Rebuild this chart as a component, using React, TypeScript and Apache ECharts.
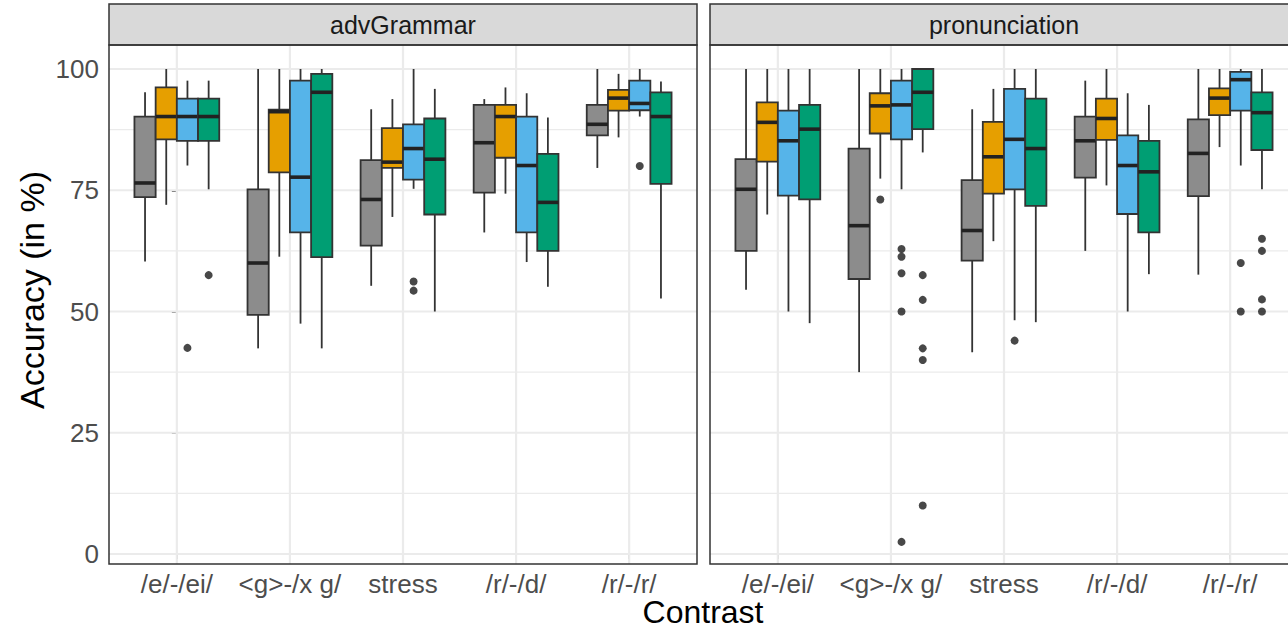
import React, { useEffect, useRef } from "react";
import * as echarts from "echarts";

// ---------- data ----------
const categories = ["/e/-/ei/", "<g>-/x g/", "stress", "/r/-/d/", "/r/-/r/"];
const panels = ["advGrammar", "pronunciation"];
const yTicks = [0, 25, 50, 75, 100];
const yMinorTicks = [12.5, 37.5, 62.5, 87.5];
const groupColors = ["#8C8C8C", "#E69F00", "#56B4E9", "#009E73"];

// each row: [lower whisker, Q1, median, Q3, upper whisker], one row per category
const advGrammarGray = [
  [60.3, 73.6, 76.5, 90.2, 95.2],
  [42.4, 49.3, 60.0, 75.2, 100],
  [55.3, 63.6, 73.1, 81.2, 91.7],
  [66.3, 74.5, 84.8, 92.6, 93.8],
  [79.6, 86.3, 88.6, 92.6, 100],
];
const advGrammarOrange = [
  [72.0, 85.5, 90.2, 96.2, 100],
  [61.3, 78.7, 91.2, 91.6, 100],
  [69.5, 79.6, 80.8, 87.8, 93.8],
  [74.3, 81.7, 90.2, 92.6, 96.2],
  [85.9, 91.4, 94.0, 95.7, 99.0],
];
const advGrammarBlue = [
  [80.1, 85.2, 90.2, 93.9, 97.6],
  [47.5, 66.3, 77.7, 97.6, 100],
  [75.3, 77.2, 83.6, 88.6, 100],
  [60.2, 66.3, 80.1, 90.2, 95.0],
  [90.2, 91.5, 92.9, 97.6, 100],
];
const advGrammarGreen = [
  [75.2, 85.2, 90.2, 93.9, 97.6],
  [42.4, 61.2, 95.2, 99.0, 100],
  [50.0, 70.0, 81.4, 89.8, 95.9],
  [55.1, 62.5, 72.5, 82.5, 90.0],
  [52.7, 76.3, 90.2, 95.2, 97.4],
];
const pronunciationGray = [
  [54.5, 62.5, 75.2, 81.4, 100],
  [37.5, 56.7, 67.7, 83.6, 100],
  [41.6, 60.5, 66.7, 77.1, 91.7],
  [62.5, 77.6, 85.2, 90.2, 97.6],
  [57.6, 73.8, 82.6, 89.6, 100],
];
const pronunciationOrange = [
  [70.0, 80.9, 89.0, 93.1, 100],
  [77.4, 86.7, 92.4, 95.0, 100],
  [64.5, 74.3, 81.9, 89.1, 95.9],
  [76.0, 85.4, 89.8, 93.9, 100],
  [83.9, 90.5, 94.0, 96.0, 100],
];
const pronunciationBlue = [
  [50.0, 73.9, 85.2, 91.4, 100],
  [75.2, 85.5, 92.6, 97.6, 100],
  [48.2, 75.2, 85.5, 95.9, 100],
  [50.0, 70.1, 80.1, 86.3, 95.0],
  [80.1, 91.4, 97.8, 99.4, 100],
];
const pronunciationGreen = [
  [47.6, 73.1, 87.6, 92.6, 100],
  [82.8, 87.6, 95.2, 100, 100],
  [47.8, 71.8, 83.6, 93.9, 100],
  [57.7, 66.3, 78.8, 85.2, 92.6],
  [75.2, 83.3, 91.0, 95.2, 100],
];

// outliers: [category index, group index, value]
const advGrammarOutliers = [
  [0, 2, 42.5],
  [0, 3, 57.5],
  [2, 2, 56.2],
  [2, 2, 54.3],
  [4, 2, 80.0],
];
const pronunciationOutliers = [
  [1, 1, 73.1],
  [1, 2, 62.9],
  [1, 2, 61.3],
  [1, 2, 57.9],
  [1, 2, 50.0],
  [1, 2, 2.5],
  [1, 3, 57.5],
  [1, 3, 52.4],
  [1, 3, 42.4],
  [1, 3, 40.0],
  [1, 3, 10.0],
  [2, 2, 44.0],
  [4, 2, 60.0],
  [4, 2, 50.0],
  [4, 3, 65.0],
  [4, 3, 62.5],
  [4, 3, 52.5],
  [4, 3, 50.0],
];

const panelBoxes = [
  [advGrammarGray, advGrammarOrange, advGrammarBlue, advGrammarGreen],
  [pronunciationGray, pronunciationOrange, pronunciationBlue, pronunciationGreen],
];
const panelOutliers = [advGrammarOutliers, pronunciationOutliers];

// ---------- layout ----------
const X_MIN = -0.6;
const X_MAX = 4.6;
const Y_MIN = -2.06;
const Y_MAX = 104.95;
const BOX_W = 0.1875;
const groupOffsets = [-1.5, -0.5, 0.5, 1.5].map((k) => k * BOX_W);
const PANEL_TOP = 45;
const PANEL_H = 519;
const PANEL_W = 588;
const panelLefts = [109, 710];
const FONT = "'Liberation Sans', Arial, Helvetica, sans-serif";
const DARK = "#333333";

function buildOption() {
  const grids = panelLefts.map((l) => ({ left: l, top: PANEL_TOP, width: PANEL_W, height: PANEL_H }));
  const xAxes = panelLefts.map((_, i) => ({
    type: "value",
    gridIndex: i,
    min: X_MIN,
    max: X_MAX,
    axisLine: { show: false },
    splitLine: { show: false },
    axisTick: {
      show: true,
      customValues: [0, 1, 2, 3, 4],
      length: 5,
      lineStyle: { color: DARK, width: 1.5 },
    },
    axisLabel: {
      show: true,
      customValues: [0, 1, 2, 3, 4],
      formatter: (v: number) => categories[Math.round(v)] ?? "",
      fontSize: 26,
      fontFamily: FONT,
      color: "#4D4D4D",
      margin: 7,
    },
  }));
  const yAxes = panelLefts.map((_, i) => ({
    type: "value",
    gridIndex: i,
    min: Y_MIN,
    max: Y_MAX,
    axisLine: { show: false },
    splitLine: { show: false },
    axisTick: {
      show: i === 0,
      customValues: yTicks,
      length: 5,
      lineStyle: { color: DARK, width: 1.5 },
    },
    axisLabel: {
      show: i === 0,
      customValues: yTicks,
      fontSize: 26,
      fontFamily: FONT,
      color: "#4D4D4D",
      margin: 10,
    },
  }));

  const series: any[] = [];
  panelLefts.forEach((_, p) => {
    // grid lines
    series.push({
      type: "custom",
      xAxisIndex: p,
      yAxisIndex: p,
      silent: true,
      z: 1,
      data: [[0, 0]],
      renderItem: (params: any, api: any) => {
        const children: any[] = [];
        const x0 = api.coord([X_MIN, 0])[0];
        const x1 = api.coord([X_MAX, 0])[0];
        const yTop = api.coord([0, Y_MAX])[1];
        const yBot = api.coord([0, Y_MIN])[1];
        yMinorTicks.forEach((v) => {
          const y = api.coord([0, v])[1];
          children.push({ type: "line", shape: { x1: x0, y1: y, x2: x1, y2: y }, style: { stroke: "#EBEBEB", lineWidth: 1.3 } });
        });
        yTicks.forEach((v) => {
          const y = api.coord([0, v])[1];
          children.push({ type: "line", shape: { x1: x0, y1: y, x2: x1, y2: y }, style: { stroke: "#EBEBEB", lineWidth: 2.2 } });
        });
        categories.forEach((_, c) => {
          const x = api.coord([c, 0])[0];
          children.push({ type: "line", shape: { x1: x, y1: yTop, x2: x, y2: yBot }, style: { stroke: "#EBEBEB", lineWidth: 2.2 } });
        });
        return { type: "group", children };
      },
    });
    // boxes
    const boxData: number[][] = [];
    panelBoxes[p].forEach((grp, g) => {
      grp.forEach((row, c) => boxData.push([c, g, ...row]));
    });
    series.push({
      type: "custom",
      xAxisIndex: p,
      yAxisIndex: p,
      silent: true,
      z: 2,
      encode: { x: 0, y: [2, 3, 4, 5, 6] },
      data: boxData,
      renderItem: (params: any, api: any) => {
        const c = api.value(0);
        const g = api.value(1);
        const xc = c + groupOffsets[g];
        const pMin = api.coord([xc, api.value(2)]);
        const pQ1 = api.coord([xc, api.value(3)]);
        const pMed = api.coord([xc, api.value(4)]);
        const pQ3 = api.coord([xc, api.value(5)]);
        const pMax = api.coord([xc, api.value(6)]);
        const left = api.coord([xc - BOX_W / 2, 0])[0];
        const right = api.coord([xc + BOX_W / 2, 0])[0];
        const ws = { stroke: DARK, lineWidth: 1.8 };
        return {
          type: "group",
          children: [
            { type: "line", shape: { x1: pMax[0], y1: pMax[1], x2: pQ3[0], y2: pQ3[1] }, style: ws },
            { type: "line", shape: { x1: pQ1[0], y1: pQ1[1], x2: pMin[0], y2: pMin[1] }, style: ws },
            {
              type: "rect",
              shape: { x: left, y: pQ3[1], width: right - left, height: pQ1[1] - pQ3[1] },
              style: { fill: groupColors[g], stroke: DARK, lineWidth: 1.8 },
            },
            { type: "line", shape: { x1: left, y1: pMed[1], x2: right, y2: pMed[1] }, style: { stroke: "#222222", lineWidth: 3.6 } },
          ],
        };
      },
    });
    // outliers
    series.push({
      type: "scatter",
      xAxisIndex: p,
      yAxisIndex: p,
      silent: true,
      z: 3,
      symbol: "circle",
      symbolSize: 8,
      itemStyle: { color: "#1A1A1A" },
      data: panelOutliers[p].map(([c, g, v]) => [c + groupOffsets[g], v]),
    });
  });

  const graphic: any[] = [];
  panelLefts.forEach((l, p) => {
    graphic.push({
      type: "rect",
      z: 10,
      shape: { x: l, y: 4, width: PANEL_W, height: PANEL_TOP - 4 },
      style: { fill: "#D9D9D9", stroke: DARK, lineWidth: 1.5 },
    });
    graphic.push({
      type: "text",
      z: 11,
      x: l + PANEL_W / 2,
      y: 25,
      style: {
        text: panels[p],
        fontSize: 25,
        fontFamily: FONT,
        fill: "#1A1A1A",
        textAlign: "center",
        textVerticalAlign: "middle",
      },
    });
    graphic.push({
      type: "rect",
      z: 10,
      shape: { x: l, y: PANEL_TOP, width: PANEL_W, height: PANEL_H },
      style: { fill: "none", stroke: DARK, lineWidth: 1.5 },
    });
  });
  graphic.push({
    type: "text",
    z: 11,
    x: 32,
    y: 290,
    rotation: Math.PI / 2,
    style: {
      text: "Accuracy (in %)",
      fontSize: 34,
      fontFamily: FONT,
      fill: "#000000",
      textAlign: "center",
      textVerticalAlign: "middle",
    },
  });
  graphic.push({
    type: "text",
    z: 11,
    x: 703,
    y: 612,
    style: {
      text: "Contrast",
      fontSize: 32,
      fontFamily: FONT,
      fill: "#000000",
      textAlign: "center",
      textVerticalAlign: "middle",
    },
  });

  return {
    animation: false,
    backgroundColor: "#FFFFFF",
    grid: grids,
    xAxis: xAxes,
    yAxis: yAxes,
    series,
    graphic,
  };
}

export default function App() {
  const ref = useRef<HTMLDivElement>(null);
  useEffect(() => {
    if (!ref.current) return;
    const chart = echarts.init(ref.current, null, { renderer: "svg" });
    chart.setOption(buildOption() as any);
    return () => chart.dispose();
  }, []);
  return (
    <div
      ref={ref}
      style={{ position: "fixed", left: 0, top: 0, width: 1300, height: 631, background: "#FFFFFF" }}
    />
  );
}
